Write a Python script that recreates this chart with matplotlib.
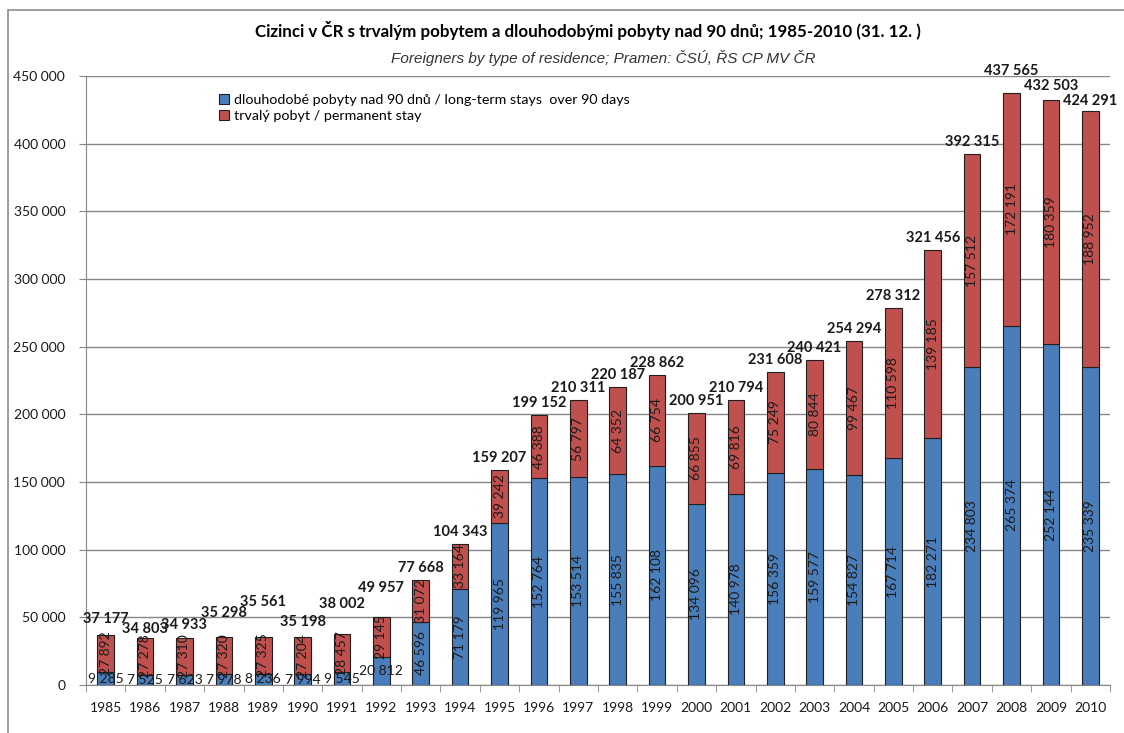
import numpy as np
import matplotlib
matplotlib.use('Agg')
import matplotlib.pyplot as plt
from matplotlib.patches import Rectangle

plt.rcParams['font.family'] = ['Lato', 'DejaVu Sans']

# data (31.12. of each year)
years = [str(y) for y in range(1985, 2011)]
longTerm = [9285, 7525, 7623, 7978, 8236, 7994, 9545, 20812, 46596, 71179,
            119965, 152764, 153514, 155835, 162108, 134096, 140978, 156359,
            159577, 154827, 167714, 182271, 234803, 265374, 252144, 235339]
permanent = [27892, 27278, 27310, 27320, 27325, 27204, 28457, 29145, 31072, 33164,
             39242, 46388, 56797, 64352, 66754, 66855, 69816, 75249,
             80844, 99467, 110598, 139185, 157512, 172191, 180359, 188952]
yTicks = [0, 50000, 100000, 150000, 200000, 250000, 300000, 350000, 400000, 450000]

title = 'Cizinci v ČR s trvalým pobytem a dlouhodobými pobyty nad 90 dnů; 1985-2010 (31. 12. )'
subtitle = 'Foreigners by type of residence; Pramen: ČSÚ, ŘS CP MV ČR'
legLong = 'dlouhodobé pobyty nad 90 dnů / long-term stays  over 90 days'
legPerm = 'trvalý pobyt / permanent stay'

# total label lift above bar top (pixels), Excel shuffled some of them
labelLift = {'1985': 16, '1986': 9, '1987': 13, '1988': 24, '1989': 35, '1990': 15,
             '1991': 30, '1992': 29, '2008': 22, '2009': 14, '2010': 10}

def fmt(v):
    return '{:,}'.format(v).replace(',', ' ')

blue = '#4A7EBB'
red = '#C0504D'

fig = plt.figure(figsize=(11.24, 7.33), dpi=100)
fig.patches.append(Rectangle((8/1124, -0.05), 1.2, 1 - 10/733 + 0.05, transform=fig.transFigure,
                             fill=False, edgecolor='#8c8c8c', linewidth=1.2))
ax = fig.add_axes([86/1124, 48/733, (1110-86)/1124, (685-76)/733])

x = np.arange(len(years))
longTerm = np.array(longTerm)
permanent = np.array(permanent)
total = longTerm + permanent
w = 0.42

ax.bar(x, longTerm, w, color=blue, edgecolor='#1f1f1f', linewidth=0.8, label=legLong, zorder=3)
ax.bar(x, permanent, w, bottom=longTerm, color=red, edgecolor='#1f1f1f', linewidth=0.8,
       label=legPerm, zorder=3)

for i in range(len(years)):
    # blue segment labels, short bars get them flat
    if longTerm[i] < 25000:
        ax.text(x[i], longTerm[i]/2, fmt(longTerm[i]), ha='center', va='center',
                fontsize=10, color='#1a1a1a', zorder=4)
    else:
        ax.text(x[i], longTerm[i]/2, fmt(longTerm[i]), ha='center', va='center',
                rotation=90, fontsize=10, color='#1a1a1a', zorder=4)
    ax.text(x[i], longTerm[i] + permanent[i]/2, fmt(permanent[i]), ha='center', va='center',
            rotation=90, fontsize=10, color='#1a1a1a', zorder=4)
    ax.annotate(fmt(total[i]), (x[i], total[i]), xytext=(0, labelLift.get(years[i], 12)),
                textcoords='offset pixels', ha='center', va='center',
                fontsize=10.5, fontweight='bold', color='#1a1a1a', zorder=4,
                annotation_clip=False)

ax.set_xlim(-0.5, len(years) - 0.5)
ax.set_ylim(0, 450000)
ax.set_yticks(yTicks)
ax.set_yticklabels([fmt(v) for v in yTicks], fontsize=10, color='#1a1a1a')
ax.set_xticks(x)
ax.set_xticklabels(years, fontsize=10, color='#1a1a1a')
ax.set_xticks(np.arange(-0.5, len(years), 1), minor=True)
ax.tick_params(axis='x', which='major', length=0, pad=12)
ax.tick_params(axis='x', which='minor', length=5, color='#868686')
ax.tick_params(axis='y', length=5, color='#868686', pad=10)
ax.grid(axis='y', color='#868686', linewidth=1.0, zorder=0)
for s in ['top', 'right']:
    ax.spines[s].set_visible(False)
for s in ['left', 'bottom']:
    ax.spines[s].set_color('#868686')

leg = ax.legend(loc='upper left', bbox_to_anchor=(0.124, 0.98), frameon=False, fontsize=10.3,
                handlelength=0.7, handleheight=0.7, handletextpad=0.4, labelspacing=0.3,
                borderaxespad=0)

fig.text(0.523, 1 - 30/733, title, ha='center', va='center', fontsize=12.2, fontweight='bold')
fig.text(0.537, 1 - 58/733, subtitle, ha='center', va='center', fontsize=11, style='italic',
         family='Liberation Sans', color='#333333')

plt.savefig('out.png', dpi=100)
